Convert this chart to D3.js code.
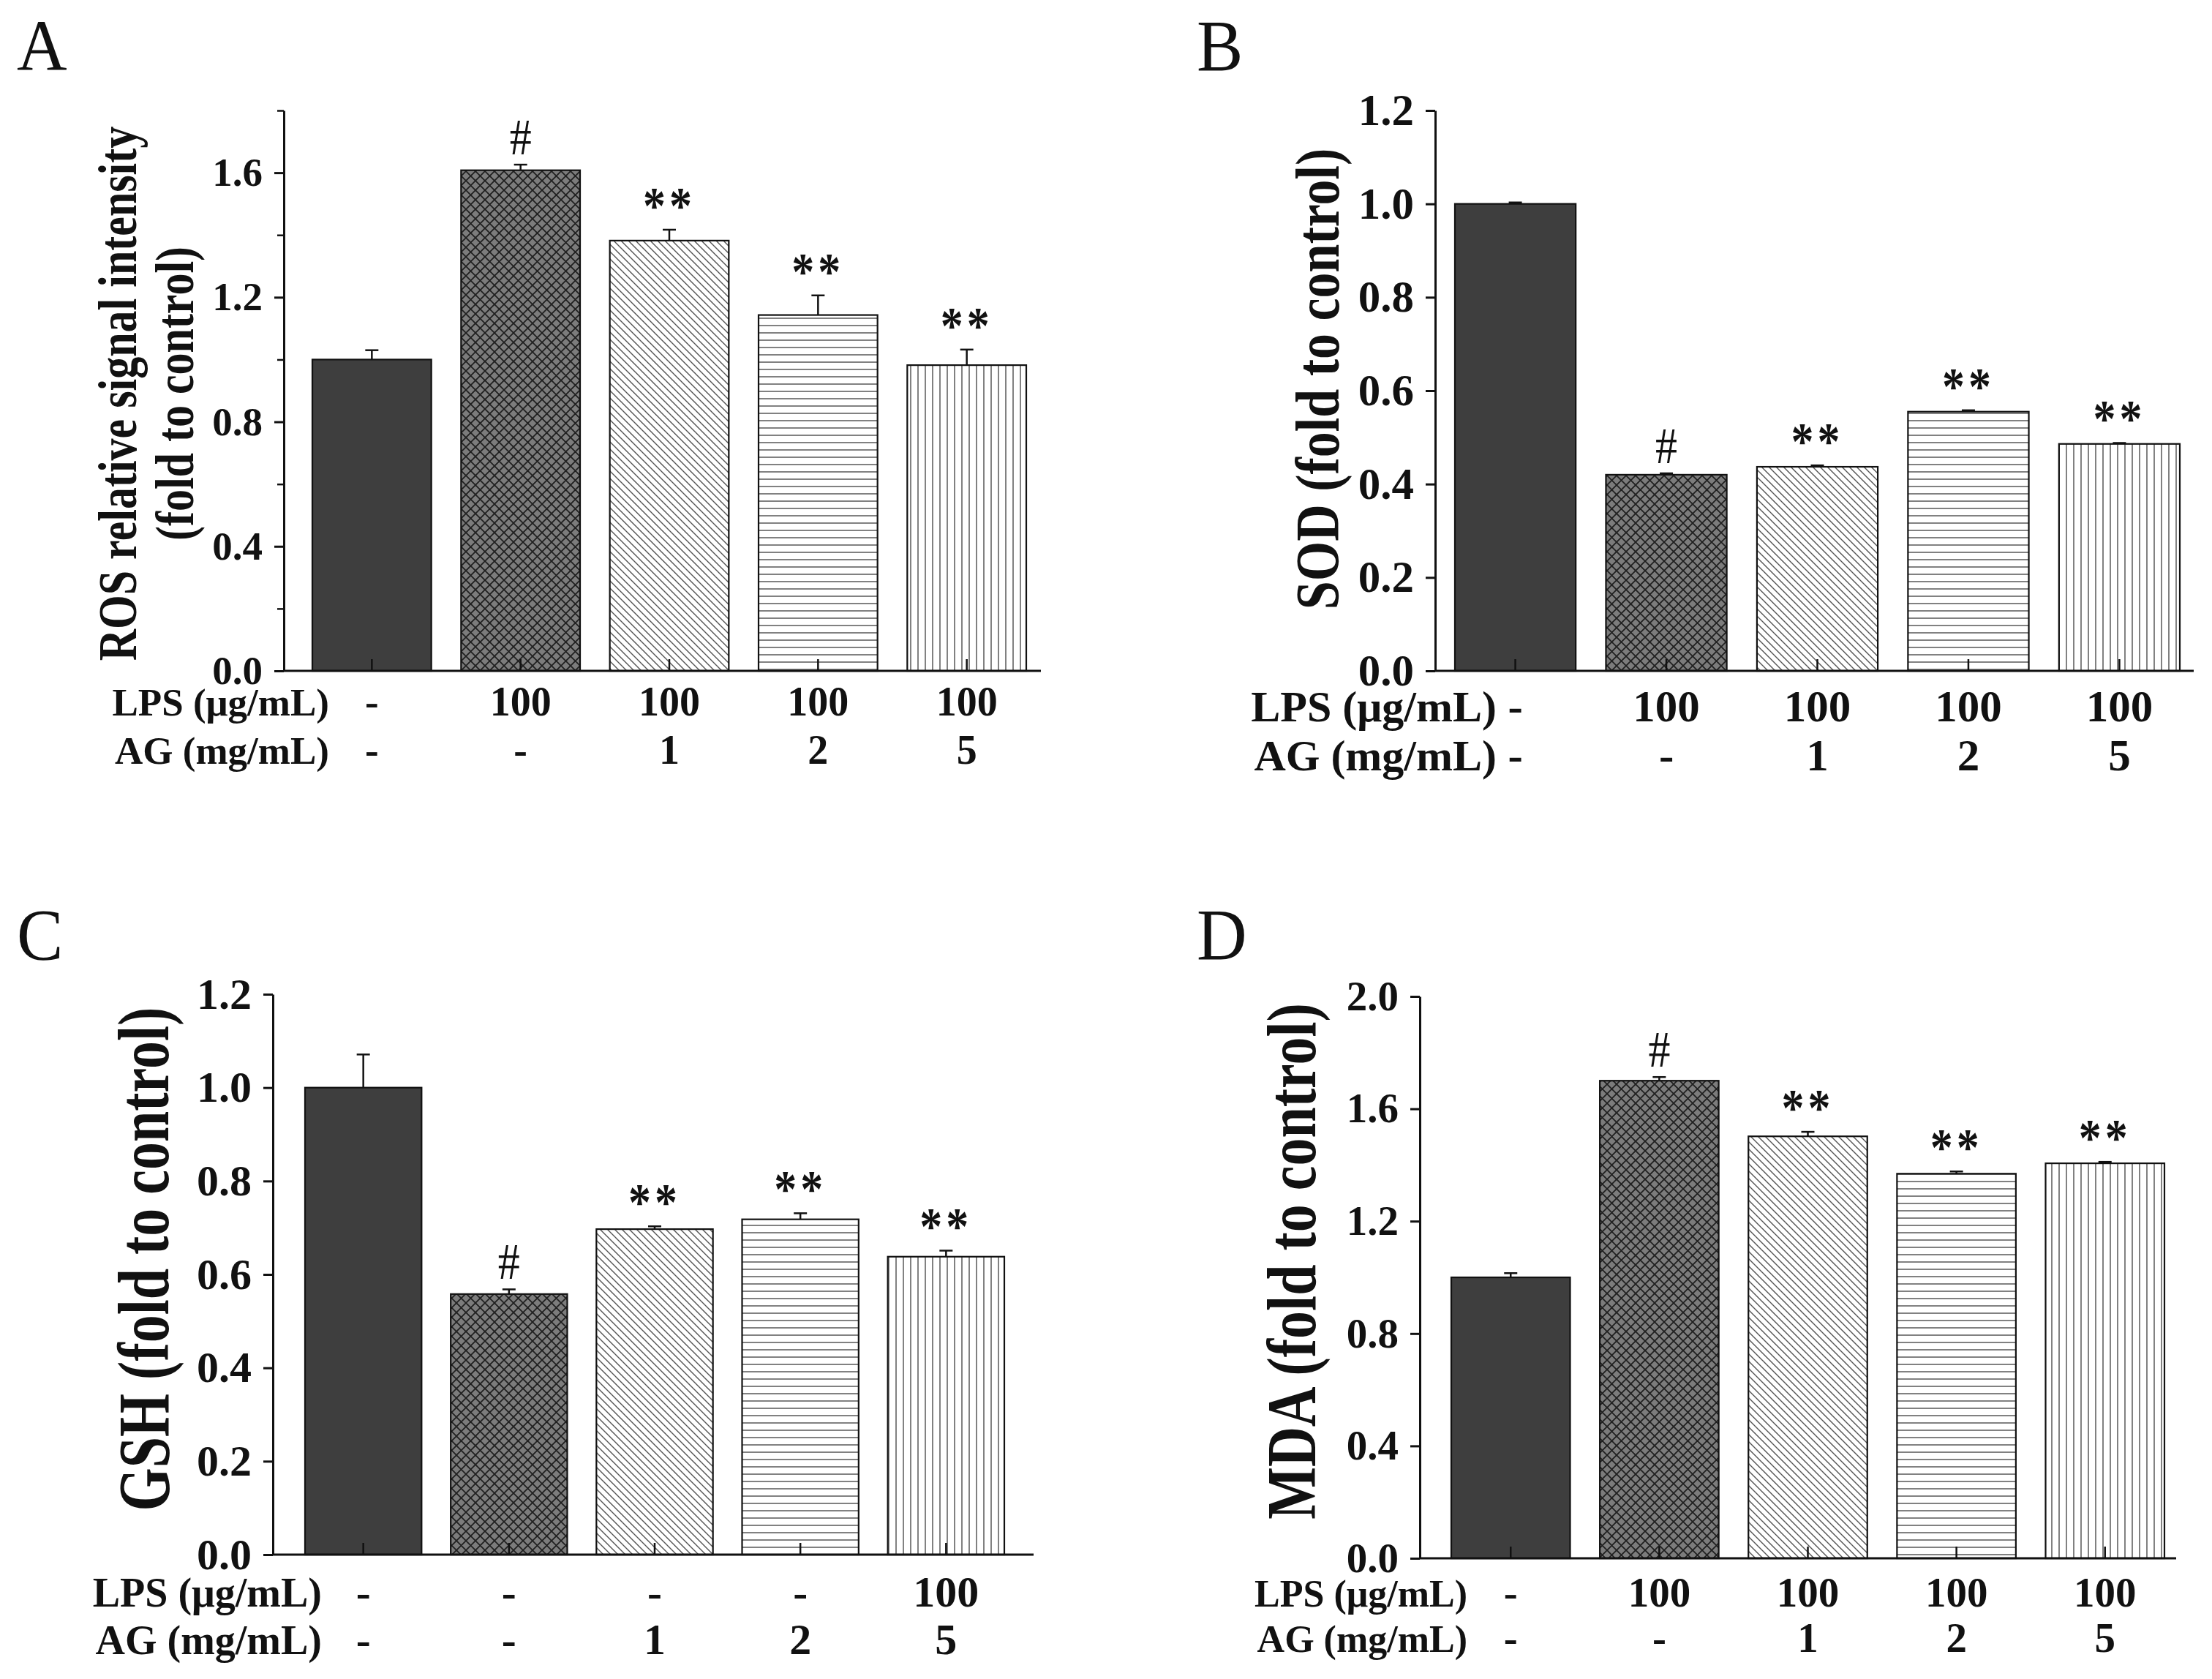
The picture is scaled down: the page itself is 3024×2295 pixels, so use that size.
<!DOCTYPE html>
<html>
<head>
<meta charset="utf-8">
<script src="https://cdn.jsdelivr.net/npm/d3@7"></script>
<style>
    body { margin: 0; background: #fff; }
    svg { display: block; }
    text { font-family: "Liberation Serif", "Times New Roman", serif; fill: #111; }
</style>
</head>
<body>
<svg id="figure" width="3024" height="2295"></svg>
<script>
// groups: control, LPS, LPS + AG 1, 2, 5
const GROUPS = ["ctrl", "lps", "ag1", "ag2", "ag5"];

const rosMean = [1.00, 1.608, 1.382, 1.143, 0.982];
const rosErr = [0.030, 0.018, 0.035, 0.063, 0.050];
const sodMean = [1.00, 0.420, 0.437, 0.555, 0.486];
const sodErr = [0.003, 0.003, 0.003, 0.003, 0.002];
const gshMean = [1.00, 0.558, 0.697, 0.718, 0.638];
const gshErr = [0.071, 0.010, 0.006, 0.013, 0.013];
const mdaMean = [1.00, 1.700, 1.502, 1.369, 1.406];
const mdaErr = [0.015, 0.013, 0.016, 0.008, 0.005];

const marks = ["", "#", "**", "**", "**"];
const lpsRow = ["-", "100", "100", "100", "100"];
const lpsRowC = ["-", "-", "-", "-", "100"];
const agRow = ["-", "-", "1", "2", "5"];

const rosTicks = [0, 0.4, 0.8, 1.2, 1.6];
const rosMinor = [0.2, 0.6, 1.0, 1.4, 1.8];
const sodTicks = [0, 0.2, 0.4, 0.6, 0.8, 1.0, 1.2];
const gshTicks = [0, 0.2, 0.4, 0.6, 0.8, 1.0, 1.2];
const mdaTicks = [0, 0.4, 0.8, 1.2, 1.6, 2.0];

const rowNames = ["LPS (\u03bcg/mL)", "AG (mg/mL)"];

const svg = d3.select("#figure");
const defs = svg.append("defs");

function addPattern(id, size, bg, path, stroke, width) {
    const p = defs.append("pattern")
        .attr("id", id)
        .attr("patternUnits", "userSpaceOnUse")
        .attr("width", size)
        .attr("height", size);
    p.append("rect").attr("width", size).attr("height", size).attr("fill", bg);
    p.append("path")
        .attr("d", path)
        .attr("fill", "none")
        .attr("stroke", stroke)
        .attr("stroke-width", width);
}

addPattern("cross", 13, "#7c7c7c", "M-1,-1L14,14M14,-1L-1,14", "#202020", 1.8);
addPattern("diag", 10, "#fff", "M-1,-1L11,11M9,-1L11,1M-1,9L1,11", "#555", 1.4);
addPattern("horiz", 10, "#fff", "M0,5H10", "#626262", 1.6);
addPattern("vert", 10, "#fff", "M5,0V10", "#626262", 1.6);

const FILLS = ["#3e3e3e", "url(#cross)", "url(#diag)", "url(#horiz)", "url(#vert)"];

const PANELS = [
    {
        letter: "A", letterPos: [23, 96],
        mean: rosMean, err: rosErr, lps: lpsRow, ag: agRow,
        ticks: rosTicks, minor: rosMinor, domain: [0, 1.8],
        axisX: 388, top: 151, base: 917, end: 1423, band: [427, 1403],
        tickFont: 55, nameFont: 53, valFont: 56, rowEnd: 450, rowY: [978, 1044],
        title: ["ROS relative signal intensity", "(fold to control)"],
        titleX: [186, 264], titleY: 538, titleFont: 60, stretch: 1.25
    },
    {
        letter: "B", letterPos: [1636, 96],
        mean: sodMean, err: sodErr, lps: lpsRow, ag: agRow,
        ticks: sodTicks, minor: [], domain: [0, 1.2],
        axisX: 1962, top: 151, base: 917, end: 2999, band: [1989, 2980],
        tickFont: 61, nameFont: 60, valFont: 61, rowEnd: 2046, rowY: [986, 1053],
        title: ["SOD (fold to control)"],
        titleX: [1830], titleY: 518, titleFont: 70, stretch: 1.2
    },
    {
        letter: "C", letterPos: [23, 1311],
        mean: gshMean, err: gshErr, lps: lpsRowC, ag: agRow,
        ticks: gshTicks, minor: [], domain: [0, 1.2],
        axisX: 373, top: 1359, base: 2125, end: 1413, band: [417, 1373],
        tickFont: 60, nameFont: 56, valFont: 60, rowEnd: 440, rowY: [2196, 2261],
        title: ["GSH (fold to control)"],
        titleX: [230], titleY: 1721, titleFont: 76, stretch: 1.3
    },
    {
        letter: "D", letterPos: [1636, 1311],
        mean: mdaMean, err: mdaErr, lps: lpsRow, ag: agRow,
        ticks: mdaTicks, minor: [], domain: [0, 2.0],
        axisX: 1941, top: 1362, base: 2130, end: 2975, band: [1984, 2959],
        tickFont: 57, nameFont: 52, valFont: 57, rowEnd: 2006, rowY: [2196, 2258],
        title: ["MDA (fold to control)"],
        titleX: [1798], titleY: 1724, titleFont: 76, stretch: 1.25
    }
];

function drawPanel(p) {
    const g = svg.append("g");

    const x = d3.scaleBand()
        .domain(GROUPS)
        .range(p.band)
        .paddingInner(0.2)
        .paddingOuter(0);

    const y = d3.scaleLinear()
        .domain(p.domain)
        .range([p.base, p.top]);

    const rows = GROUPS.map((key, i) => ({
        key: key,
        i: i,
        mean: p.mean[i],
        err: p.err[i],
        mark: marks[i]
    }));

    // bars
    g.selectAll(".bar")
        .data(rows)
        .join("rect")
            .classed("bar", true)
            .attr("x", d => x(d.key))
            .attr("width", x.bandwidth())
            .attr("y", d => y(d.mean))
            .attr("height", d => y(0) - y(d.mean))
            .attr("fill", d => FILLS[d.i])
            .attr("stroke", "#111")
            .attr("stroke-width", 2.2);

    // error bars (upper half only)
    const cx = d => x(d.key) + x.bandwidth() / 2;
    g.selectAll(".err")
        .data(rows)
        .join("line")
            .attr("x1", cx).attr("x2", cx)
            .attr("y1", d => y(d.mean))
            .attr("y2", d => y(d.mean + d.err))
            .attr("stroke", "#111")
            .attr("stroke-width", 2.5);
    g.selectAll(".cap")
        .data(rows)
        .join("line")
            .attr("x1", d => cx(d) - 9).attr("x2", d => cx(d) + 9)
            .attr("y1", d => y(d.mean + d.err))
            .attr("y2", d => y(d.mean + d.err))
            .attr("stroke", "#111")
            .attr("stroke-width", 2.5);

    // significance marks
    g.selectAll(".mark")
        .data(rows.filter(d => d.mark))
        .join("text")
            .attr("transform", d => `translate(${cx(d)},${y(d.mean + d.err) - (d.mark === "#" ? 14 : 9)}) scale(1,1.15)`)
            .attr("text-anchor", "middle")
            .style("font-size", d => d.mark === "#" ? "60px" : "62px")
            .style("font-weight", d => d.mark === "#" ? "normal" : "bold")
            .style("letter-spacing", d => d.mark === "#" ? "0px" : "5px")
            .text(d => d.mark);

    // y axis
    const yAxis = d3.axisLeft(y)
        .tickValues(p.ticks)
        .tickSize(13)
        .tickSizeOuter(0)
        .tickPadding(16)
        .tickFormat(d3.format(".1f"));
    const ya = g.append("g")
        .attr("transform", `translate(${p.axisX},0)`)
        .call(yAxis);
    ya.selectAll("path, line").attr("stroke", "#111").attr("stroke-width", 3);
    ya.selectAll("text")
        .attr("fill", "#111")
        .style("font-family", "'Liberation Serif', 'Times New Roman', serif")
        .style("font-weight", "bold")
        .style("font-size", p.tickFont + "px");

    if (p.minor.length) {
        const ym = g.append("g")
            .attr("transform", `translate(${p.axisX},0)`)
            .call(d3.axisLeft(y).tickValues(p.minor).tickSize(9).tickFormat(""));
        ym.select(".domain").remove();
        ym.selectAll("line").attr("stroke", "#111").attr("stroke-width", 2.5);
    }

    // x axis: inward ticks at bar centres, line from y axis to the end
    const xa = g.append("g")
        .attr("transform", `translate(0,${p.base})`)
        .call(d3.axisBottom(x).tickSizeInner(-16).tickSizeOuter(0).tickFormat(""));
    xa.select(".domain").remove();
    xa.selectAll("line").attr("stroke", "#111").attr("stroke-width", 2.5);
    g.append("line")
        .attr("x1", p.axisX).attr("x2", p.end)
        .attr("y1", p.base).attr("y2", p.base)
        .attr("stroke", "#111")
        .attr("stroke-width", 3);

    // treatment rows under the axis
    [p.lps, p.ag].forEach((vals, r) => {
        g.append("text")
            .attr("x", p.rowEnd)
            .attr("y", p.rowY[r])
            .attr("text-anchor", "end")
            .style("font-size", p.nameFont + "px")
            .style("font-weight", "bold")
            .text(rowNames[r]);
        g.selectAll(".row" + r)
            .data(GROUPS)
            .join("text")
                .attr("x", k => x(k) + x.bandwidth() / 2)
                .attr("y", p.rowY[r])
                .attr("text-anchor", "middle")
                .style("font-size", p.valFont + "px")
                .style("font-weight", "bold")
                .text((k, i) => vals[i]);
    });

    // y title, condensed glyphs like the original
    p.title.forEach((line, i) => {
        g.append("text")
            .attr("transform", `translate(${p.titleX[i]},${p.titleY}) rotate(-90) scale(1,${p.stretch})`)
            .attr("text-anchor", "middle")
            .style("font-size", p.titleFont + "px")
            .style("font-weight", "bold")
            .text(line);
    });

    // panel letter
    g.append("text")
        .attr("transform", `translate(${p.letterPos[0]},${p.letterPos[1]}) scale(1,1.05)`)
        .style("font-size", "95px")
        .text(p.letter);
}

PANELS.forEach(drawPanel);
</script>
</body>
</html>
